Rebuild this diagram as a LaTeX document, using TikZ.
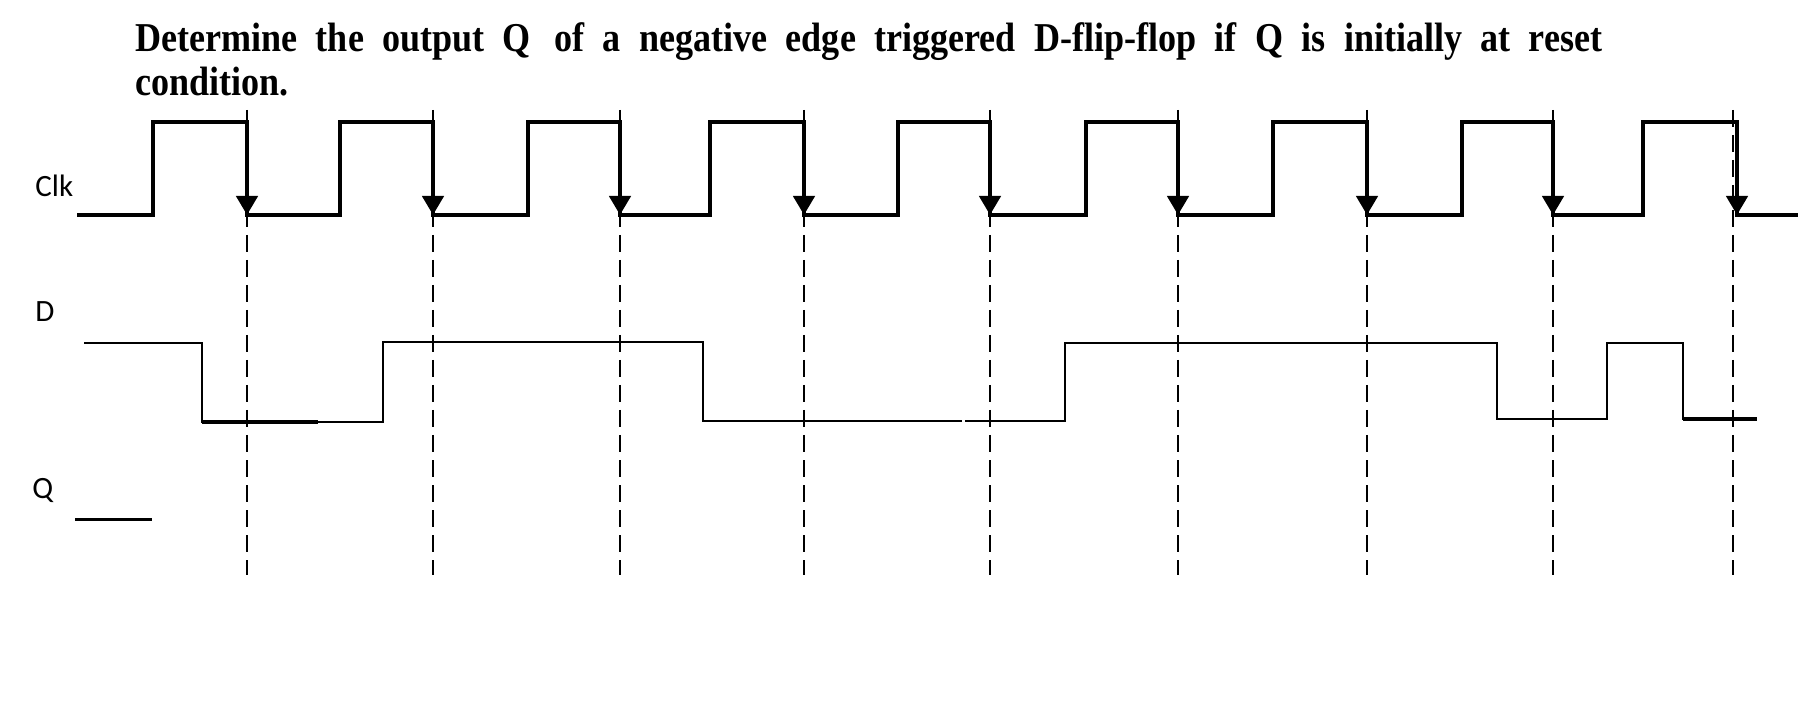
\documentclass[tikz,border=0pt]{standalone}
\usepackage{fontspec}
\usepackage{graphicx}
\setmainfont{Liberation Serif}
\newfontfamily\lblfont{Carlito}
\usetikzlibrary{arrows.meta}
\begin{document}
\begin{tikzpicture}[x=0.5pt,y=-0.5pt,line join=miter,
  clk/.style={line width=2.2pt},
  dsig/.style={line width=1.2pt},
  dthick/.style={line width=1.7pt},
  qsig/.style={line width=1.5pt},
  guide/.style={line width=1.2pt, dash pattern=on 8.5pt off 4pt},
  clkedge/.style={line width=2.2pt,-{Triangle[width=10.5pt,length=9.5pt]}},
  lbl/.style={font=\lblfont\fontsize{15.5}{18}\selectfont, inner sep=0pt, anchor=base west},
  ttl/.style={font=\bfseries\fontsize{20.5}{22}\selectfont, inner sep=0pt, anchor=base west}]
\useasboundingbox (0,0) rectangle (1809,721);
% title
\node[ttl] (t1) at (135,52) {\scalebox{0.88}[1]{\makebox[833.5pt][s]{Determine the output Q\hspace{3pt} of a negative edge triggered D-flip-flop if Q is initially at reset}}};
\node[ttl] (t2) at (135,96) {\scalebox{0.88}[1]{condition.}};
% labels
\node[lbl] (clk) at (35,197) {Clk};
\node[lbl] (d) at (35,322) {D};
\node[lbl] (q) at (32,498) {Q};
% guides
\foreach \x [count=\i] in {247,433,620,804,990,1178,1367,1553,1733}
  \draw[guide] (\x,110) coordinate (g\i top) -- (\x,575) coordinate (g\i bot);
% clock
\draw[clk] (77,215) -- (153,215) -- (153,122) -- (247,122) -- (247,215)
  -- (340,215) -- (340,122) -- (433,122) -- (433,215)
  -- (528,215) -- (528,122) -- (620,122) -- (620,215)
  -- (710,215) -- (710,122) -- (804,122) -- (804,215)
  -- (898,215) -- (898,122) -- (990,122) -- (990,215)
  -- (1086,215) -- (1086,122) -- (1178,122) -- (1178,215)
  -- (1273,215) -- (1273,122) -- (1367,122) -- (1367,215)
  -- (1462,215) -- (1462,122) -- (1553,122) -- (1553,215)
  -- (1643,215) -- (1643,122) -- (1737,122) -- (1737,215) -- (1798,215);
\foreach \x in {247,433,620,804,990,1178,1367,1553,1737}
  \draw[clkedge] (\x,122) -- (\x,215);
% D
\draw[dsig] (84,343) -- (202,343) -- (202,422) -- (383,422) -- (383,342)
  -- (703,342) -- (703,421) -- (962,421);
\draw[dthick] (202,422) -- (318,422);
\draw[dsig] (965,421) -- (1065,421) -- (1065,343) -- (1497,343) -- (1497,419)
  -- (1607,419) -- (1607,343) -- (1683,343) -- (1683,419) -- (1757,419);
\draw[dthick] (1683,419) -- (1757,419);
% Q
\draw[qsig] (75,519) -- (152,519);
\end{tikzpicture}
\end{document}
